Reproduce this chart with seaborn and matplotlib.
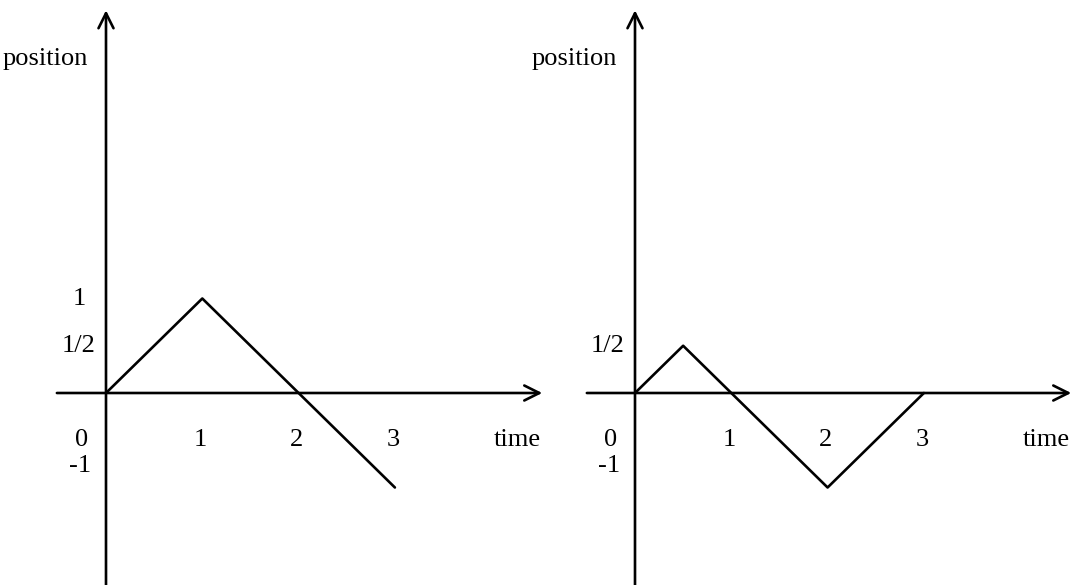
import matplotlib
matplotlib.use("Agg")
import matplotlib.pyplot as plt
import pandas as pd
import seaborn as sns

# piecewise-linear position vs time, left and right graphs
time_left = [0, 1, 2, 3]
position_left = [0, 1, 0, -1]
time_right = [0, 0.5, 1, 2, 3]
position_right = [0, 0.5, 0, -1, 0]

x_ticks = [1, 2, 3]
y_labels_left = {1: "1", 0.5: "1/2"}
y_labels_right = {0.5: "1/2"}

sns.set_theme(style="white")
plt.rcParams["font.family"] = ["Liberation Serif", "DejaVu Serif"]
plt.rcParams["text.color"] = "black"

W, H = 1072, 585
fig = plt.figure(figsize=(W / 100, H / 100), dpi=100)

PX_X, PX_Y = 96.3, 94.5  # pixels per data unit
ORIGIN_Y = 393


def make_axes(px_left, px_right, origin_x):
    ax = fig.add_axes([px_left / W, 0, (px_right - px_left) / W, 1])
    ax.set_xlim((px_left - origin_x) / PX_X, (px_right - origin_x) / PX_X)
    ax.set_ylim((ORIGIN_Y - H) / PX_Y, ORIGIN_Y / PX_Y)
    ax.axis("off")
    return ax


def draw_panel(ax, t, p, ylabels, x_start, x_end):
    arrow = dict(arrowstyle="->,head_length=0.9,head_width=0.45", color="black", lw=1.9,
                 shrinkA=0, shrinkB=0)
    # vertical axis
    ax.annotate("", xy=(0, 4.05), xytext=(0, -2.1), arrowprops=arrow, annotation_clip=False)
    # horizontal axis
    ax.annotate("", xy=(x_end, 0), xytext=(x_start, 0), arrowprops=arrow, annotation_clip=False)
    df = pd.DataFrame({"time": t, "position": p})
    sns.lineplot(data=df, x="time", y="position", ax=ax, color="black", lw=1.9,
                 sort=False, estimator=None)
    ax.axis("off")
    fs = 19
    ax.text(-0.63, 3.53, "position", ha="center", va="center", fontsize=fs)
    for val, lab in ylabels.items():
        ax.text(-0.28, val, lab, ha="center", va="center", fontsize=fs)
    ax.text(-0.25, -0.5, "0", ha="center", va="center", fontsize=fs)
    ax.text(-0.27, -0.77, "-1", ha="center", va="center", fontsize=fs)
    for xt in x_ticks:
        ax.text(xt - 0.02, -0.5, str(xt), ha="center", va="center", fontsize=fs)
    ax.text(4.27, -0.5, "time", ha="center", va="center", fontsize=fs)


ax_left = make_axes(0, 536, 106)
draw_panel(ax_left, time_left, position_left, y_labels_left, -0.51, 4.53)

ax_right = make_axes(536, 1072, 635)
draw_panel(ax_right, time_right, position_right, y_labels_right, -0.5, 4.53)

fig.savefig("out.png", dpi=100, facecolor="white")
